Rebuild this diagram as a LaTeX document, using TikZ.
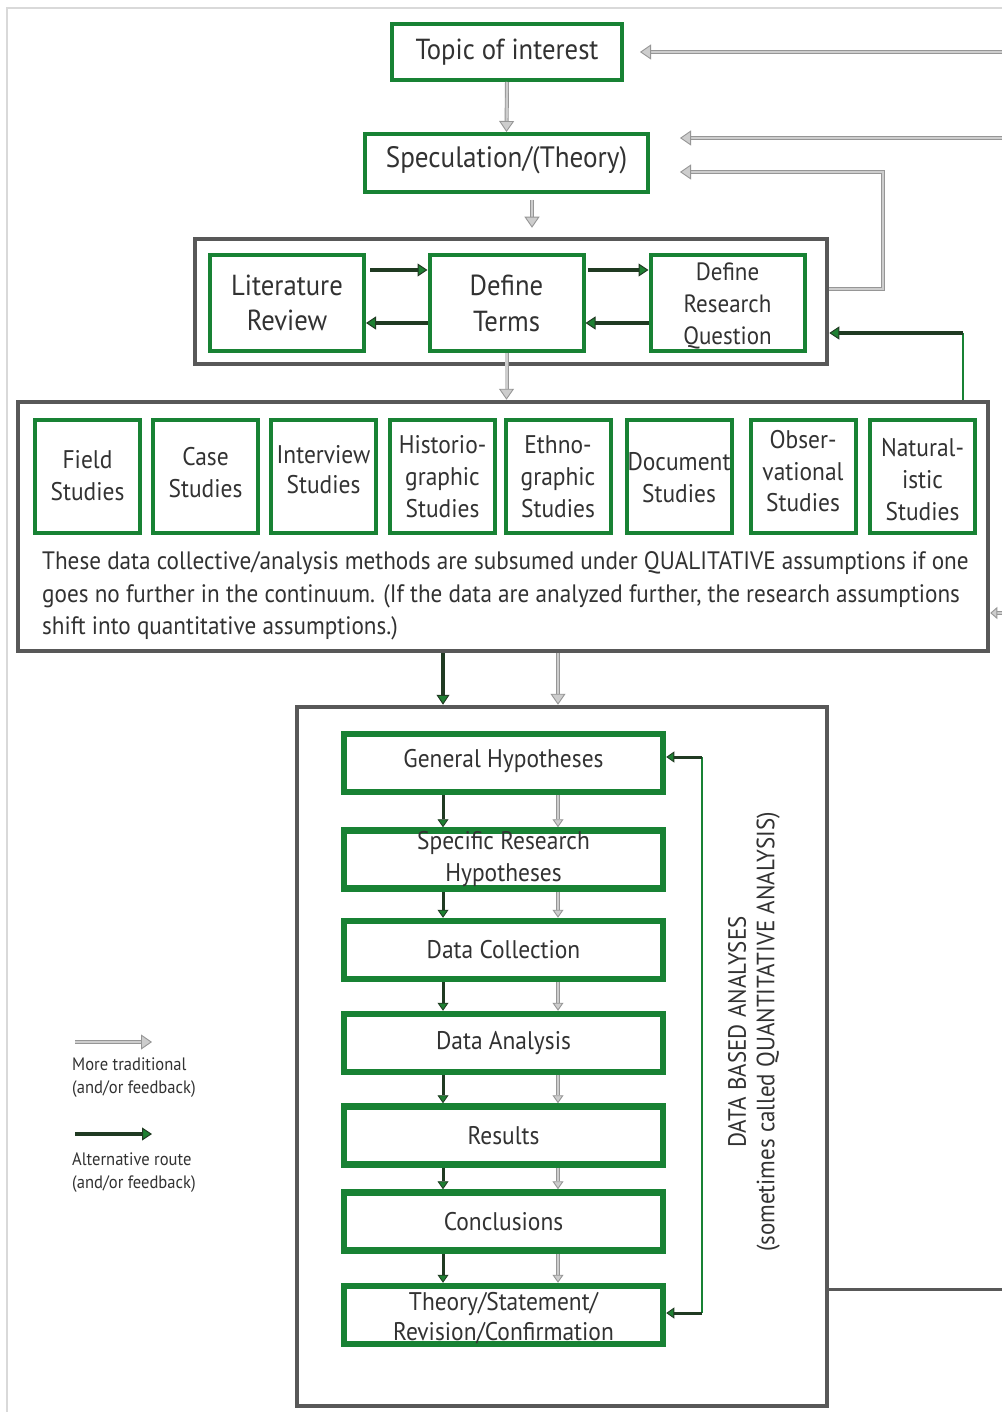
\documentclass[tikz,border=0pt]{standalone}
\usepackage{fontspec}
\setmainfont{PT Sans}[FakeStretch=0.92]
\usetikzlibrary{arrows.meta,calc}
\definecolor{bgreen}{RGB}{24,130,52}
\definecolor{fgray}{RGB}{88,88,88}
\definecolor{altdark}{RGB}{32,58,34}
\definecolor{altgreen}{RGB}{30,128,50}
\definecolor{txt}{RGB}{50,50,50}
\definecolor{tgray}{RGB}{150,150,150}
\definecolor{tfill}{RGB}{205,205,205}
\tikzset{
  gbox/.style={draw=bgreen, line width=4pt, fill=white, text=txt, align=center, inner sep=0pt},
  gboxb/.style={gbox, line width=6.5pt, minimum width=319pt, minimum height=58pt, font=\fontsize{25.5}{31}\selectfont},
  frame/.style={draw=fgray, line width=4.5pt, inner sep=0pt},
  study/.style={gbox, minimum width=105pt, minimum height=113pt},
  stxt/.style={text=txt, align=center, inner sep=0pt, font=\fontsize{25.5}{32}\selectfont},
  trad/.style={draw=tgray, line width=0.9pt, double=tfill, double distance=2.2pt,
     -{Triangle[length=11pt,width=15pt,fill=tfill,line width=0.9pt]}},
  tradsm/.style={trad, -{Triangle[length=8pt,width=11pt,fill=tfill,line width=0.9pt]}},
  alt/.style={draw=altdark, line width=3.5pt, -{Triangle[length=10pt,width=13pt,fill=altgreen,line width=1pt]}},
  altsm/.style={draw=altdark, line width=3pt, -{Triangle[length=8pt,width=11pt,fill=altgreen,line width=0.8pt]}},
  gline/.style={draw=bgreen, line width=1.8pt},
  fline/.style={draw=fgray, line width=3pt},
  para/.style={anchor=west, text=txt, font=\fontsize{25.2}{30}\selectfont, inner sep=0pt},
  legend/.style={anchor=north west, text=txt, align=left, font=\fontsize{18}{23}\selectfont, inner sep=0pt},
}
\begin{document}
\begin{tikzpicture}[x=1pt,y=-1pt]
\useasboundingbox (0,0) rectangle (1002,1412);
\fill[white] (0,0) rectangle (1002,1412);
\draw[gray!30, line width=2pt] (1002,8) -- (7,8) -- (7,1412);

% top
\node[gbox, minimum width=230pt, minimum height=56pt, font=\fontsize{29}{32}\selectfont] (topic) at (507,52) {\raisebox{-2pt}{Topic of interest}};
\node[gbox, minimum width=283pt, minimum height=58pt, font=\fontsize{29.5}{32}\selectfont] (spec) at (506.5,163) {\raisebox{12pt}{Speculation/(Theory)}};

% group
\node[frame, minimum width=632pt, minimum height=125pt] (group) at (511,301.5) {};
\node[gbox, minimum width=154pt, minimum height=96pt, font=\fontsize{29}{35}\selectfont] (lit) at (287,303) {Literature\\Review};
\node[gbox, minimum width=154pt, minimum height=96pt, font=\fontsize{29}{36}\selectfont] (def) at (506.5,303) {Define\\Terms};
\node[gbox, minimum width=154pt, minimum height=96pt] (drq) at (727.5,303) {};
\node[stxt, font=\fontsize{25}{32}\selectfont] (drqt) at (727.5,306) {Define\\Research\\Question};

% big box
\node[frame, minimum width=970pt, minimum height=249pt] (big) at (503,526.5) {};
\node[study] (s1) at (87.5,476.5) {};
\node[study] (s2) at (205.5,476.5) {};
\node[study] (s3) at (323.5,476.5) {};
\node[study] (s4) at (442.5,476.5) {};
\node[study] (s5) at (558,476.5) {};
\node[study] (s6) at (679,476.5) {};
\node[study] (s7) at (803,476.5) {};
\node[study] (s8) at (922.5,476.5) {};
\node[stxt] (t1) at (87.5,476) {Field\\Studies};
\node[stxt] (t2) at (205.5,473) {Case\\Studies};
\node[stxt, font=\fontsize{25.5}{30}\selectfont] (t3) at (323.5,470) {Interview\\Studies};
\node[stxt] (t4) at (442.5,477) {Historio-\\graphic\\Studies};
\node[stxt] (t5) at (558,477) {Ethno-\\graphic\\Studies};
\node[stxt] (t6) at (679,478) {Document\\Studies};
\node[stxt, font=\fontsize{25.5}{31.5}\selectfont] (t7) at (803,471.5) {Obser-\\vational\\Studies};
\node[stxt] (t8) at (922.5,479.5) {Natural-\\istic\\Studies};
\node[para] (p1) at (42,563) {These data collective/analysis methods are subsumed under QUALITATIVE assumptions if one};
\node[para] (p2) at (42,596) {goes no further in the continuum. (If the data are analyzed further, the research assumptions};
\node[para] (p3) at (42,628) {shift into quantitative assumptions.)};

% data box
\node[frame, minimum width=530pt, minimum height=699pt] (data) at (562,1056.5) {};
\node[gboxb] (gh)  at (503.5,763)    {\raisebox{9pt}{General Hypotheses}};
\node[gboxb, font=\fontsize{25.5}{32}\selectfont] (srh) at (503.5,859.5)  {Specific Research\\Hypotheses};
\node[gboxb] (dc)  at (503.5,950)    {Data Collection};
\node[gboxb] (da)  at (503.5,1043)   {\raisebox{-7pt}{Data Analysis}};
\node[gboxb] (res) at (503.5,1135.5) {Results};
\node[gboxb] (con) at (503.5,1221.5) {Conclusions};
\node[gboxb] (thy) at (503.5,1315)   {};
\node[stxt, font=\fontsize{25.5}{30}\selectfont] (thyt) at (503.5,1318) {Theory/Statement/\\Revision/Confirmation};
\node[rotate=90, align=center, text=txt, font=\fontsize{25}{28.5}\selectfont] (vlab) at (754,1032) {DATA BASED ANALYSES\\(sometimes called QUANTITATIVE ANALYSIS)};

% coordinates
\coordinate (e1) at (1002,52);
\coordinate (e2) at (1002,138);
\coordinate (c1) at (883,172);
\coordinate (c2) at (883,289);
\coordinate (g1) at (963,333);
\coordinate (e3) at (1002,613);
\coordinate (e4) at (1002,1289);
\coordinate (sx) at (532,0);
\coordinate (ya) at (0,270);
\coordinate (yb) at (0,323);
\coordinate (xa) at (443,0);
\coordinate (xb) at (558,0);
\coordinate (f1) at (702,757);
\coordinate (f2) at (702,1313);

% top connectors
\draw[trad] (topic.south) -- (spec.north);
\draw[trad] ($(spec.south -| sx)+(0,6)$) -- ($(group.north -| sx)+(0,-9)$);
\draw[trad] (e1) -- ($(topic.east)+(16,0)$);
\draw[trad] (e2) -- ($(spec.east |- e2)+(30,0)$);
\draw[trad] (group.east |- c2) -- (c2) -- (c1) -- ($(spec.east |- c1)+(30,0)$);
\draw[gline] (big.north -| g1) -- (g1);
\draw[alt] (g1) -- (group.east |- g1);

\draw[alt] ($(lit.east |- ya)+(4,0)$) -- (def.west |- ya);
\draw[alt] (def.west |- yb) -- (lit.east |- yb);
\draw[alt] ($(def.east |- ya)+(2,0)$) -- (drq.west |- ya);
\draw[alt] (drq.west |- yb) -- (def.east |- yb);

\draw[trad] (def.south) -- (big.north -| def.south);
\draw[trad, -{Triangle[length=7pt,width=12pt,fill=tfill,line width=0.9pt]}] (e3) -- (big.east |- e3);

\draw[alt] (big.south -| xa) -- (data.north -| xa);
\draw[trad] (big.south -| xb) -- (data.north -| xb);

% inner chain
\foreach \u/\v in {gh/srh, srh/dc, dc/da, da/res, res/con, con/thy}{
  \draw[altsm] (\u.south -| xa) -- (\v.north -| xa);
  \draw[tradsm] (\u.south -| xb) -- (\v.north -| xb);
}
\draw[gline, line width=1.5pt] (f1) -- (f2);
\draw[altsm] (f1) -- (gh.east |- f1);
\draw[altsm] (f2) -- (thy.east |- f2);
\draw[fline] (data.east |- e4) -- (e4);

% legend
\coordinate (l1) at (75,1042);
\coordinate (l2) at (152,1042);
\coordinate (l3) at (75,1134);
\coordinate (l4) at (152,1134);
\draw[trad] (l1) -- (l2);
\node[legend] (lt1) at (72,1058) {More traditional\\(and/or feedback)};
\draw[alt] (l3) -- (l4);
\node[legend] (lt2) at (72,1152) {Alternative route\\(and/or feedback)};
\end{tikzpicture}
\end{document}
